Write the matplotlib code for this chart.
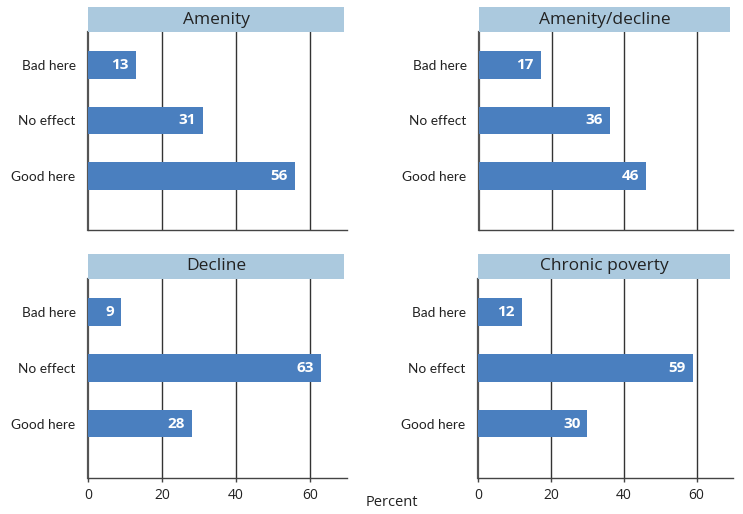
import matplotlib
matplotlib.use("Agg")
import matplotlib.pyplot as plt
from matplotlib.patches import Rectangle

categories = ["Bad here", "No effect", "Good here"]
panel_titles = ["Amenity", "Amenity/decline", "Decline", "Chronic poverty"]
amenity = [13, 31, 56]
amenity_decline = [17, 36, 46]
decline = [9, 63, 28]
chronic_poverty = [12, 59, 30]
x_ticks = [0, 20, 40, 60]
x_label = "Percent"

series = [amenity, amenity_decline, decline, chronic_poverty]

BAR = "#4a7fbf"
HEAD = "#abc9de"
W, H = 743, 514

fig = plt.figure(figsize=(W / 100, H / 100), dpi=100)

# pixel boxes: left, right, top, bottom
boxes = [
    (88, 347, 32, 230),
    (479, 733, 32, 230),
    (88, 347, 279, 478),
    (478, 733, 279, 478),
]

label_font = ["Lato", "DejaVu Sans"]
main_font = ["Open Sans", "DejaVu Sans"]

for i, (vals, title, (l, r, t, b)) in enumerate(zip(series, panel_titles, boxes)):
    ax = fig.add_axes([l / W, 1 - b / H, (r - l) / W, (b - t) / H])
    ypos = list(range(len(categories)))
    ax.barh(ypos, vals, height=0.5, color=BAR, zorder=3)
    ax.set_xlim(0, 70)
    ax.set_ylim(2.98, -0.6)
    ax.set_yticks(ypos)
    ax.set_yticklabels(categories, fontsize=9.8, family=label_font, color="#222222")
    ax.tick_params(axis="y", length=0, pad=9)
    ax.set_xticks(x_ticks)
    for gx in x_ticks[1:]:
        ax.axvline(gx, color="#333333", lw=1.0, zorder=1)
    for s in ["top", "right"]:
        ax.spines[s].set_visible(False)
    ax.spines["left"].set_color("#555555")
    ax.spines["left"].set_linewidth(1.6)
    ax.spines["bottom"].set_color("#444444")
    ax.spines["bottom"].set_linewidth(1.0)
    if i < 2:
        ax.tick_params(axis="x", length=0, labelbottom=False)
    else:
        ax.tick_params(axis="x", length=3, width=1.0, color="#444444",
                       labelsize=10, labelcolor="#222222", pad=4)
        for lab in ax.get_xticklabels():
            lab.set_family(main_font)
    for y, v in zip(ypos, vals):
        ax.text(v - 1.9, y, str(v), ha="right", va="center", color="white",
                fontsize=11, fontweight="bold", family=main_font, zorder=4)
    hh = 25 / (b - t)
    ax.add_patch(Rectangle((0, 1), 0.99, hh, transform=ax.transAxes,
                           facecolor=HEAD, edgecolor="none", clip_on=False, zorder=5))
    ax.text(0.495, 1 + hh / 2, title, transform=ax.transAxes, ha="center",
            va="center", fontsize=12.5, family=main_font, color="#222222", zorder=6)

fig.text(392 / W, 1 - 503 / H, x_label, ha="center", va="center",
         fontsize=10.5, family=main_font, color="#222222")

fig.savefig("out.png", dpi=100, facecolor="white")
